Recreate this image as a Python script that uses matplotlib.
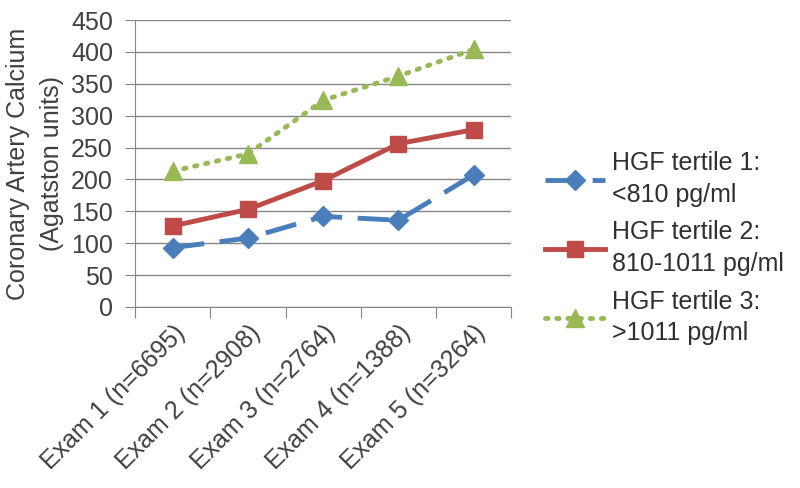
import matplotlib
matplotlib.use("Agg")
import matplotlib.pyplot as plt

categories = ["Exam 1 (n=6695)", "Exam 2 (n=2908)", "Exam 3 (n=2764)",
              "Exam 4 (n=1388)", "Exam 5 (n=3264)"]
tertile1 = [93, 108, 142, 136, 207]
tertile2 = [127, 153, 198, 256, 278]
tertile3 = [213, 240, 324, 362, 404]
labels = ["HGF tertile 1:\n<810 pg/ml", "HGF tertile 2:\n810-1011 pg/ml",
          "HGF tertile 3:\n>1011 pg/ml"]
yticks = [0, 50, 100, 150, 200, 250, 300, 350, 400, 450]

plt.rcParams['font.family'] = ['Liberation Sans', 'DejaVu Sans']
FS = 18
TXT = '#404040'

fig = plt.figure(figsize=(8, 4.88), dpi=100)
ax = fig.add_axes([0.169, 0.371, 0.470, 0.588])

x = list(range(len(categories)))
ax.plot(x, tertile1, color='#4A7EBB', lw=3.5, dashes=(6.5, 3.2), marker='D', ms=10,
        label=labels[0])
ax.plot(x, tertile2, color='#BE4B48', lw=3.5, marker='s', ms=11, label=labels[1])
ax.plot(x, tertile3, color='#98B954', lw=3.5, linestyle=(0, (0.5, 1.8)),
        dash_capstyle='round', marker='^', ms=13, label=labels[2])

ax.set_xlim(-0.5, 4.5)
ax.set_ylim(0, 450)
ax.set_yticks(yticks)
ax.yaxis.grid(True, color='#868686', lw=1)
ax.set_axisbelow(True)
for s in ['top', 'right']:
    ax.spines[s].set_visible(False)
for s in ['left', 'bottom']:
    ax.spines[s].set_color('#868686')
ax.tick_params(axis='y', length=7, color='#868686', labelsize=FS, labelcolor=TXT, pad=9)
ax.set_xticks([i - 0.5 for i in range(6)], minor=False)
ax.set_xticklabels([])
ax.set_xticks(x, minor=True)
ax.set_xticklabels(categories, minor=True, rotation=45, ha='right',
                   rotation_mode='anchor', fontsize=FS, color=TXT)
ax.tick_params(axis='x', which='major', length=8, color='#868686', direction='out')
ax.tick_params(axis='x', which='minor', length=0, pad=10)
ax.set_ylabel("Coronary Artery Calcium\n(Agatston units)", fontsize=FS,
              color=TXT, linespacing=1.5)
ax.yaxis.set_label_coords(-0.19, 0.5)

leg = ax.legend(loc='center left', bbox_to_anchor=(1.03, 0.205), frameon=False,
                fontsize=FS, handlelength=2.4, labelspacing=0.55,
                handletextpad=0.3, labelcolor='#303030')
for t in leg.get_texts():
    t.set_linespacing(1.4)

fig.savefig("out.png", dpi=100)
